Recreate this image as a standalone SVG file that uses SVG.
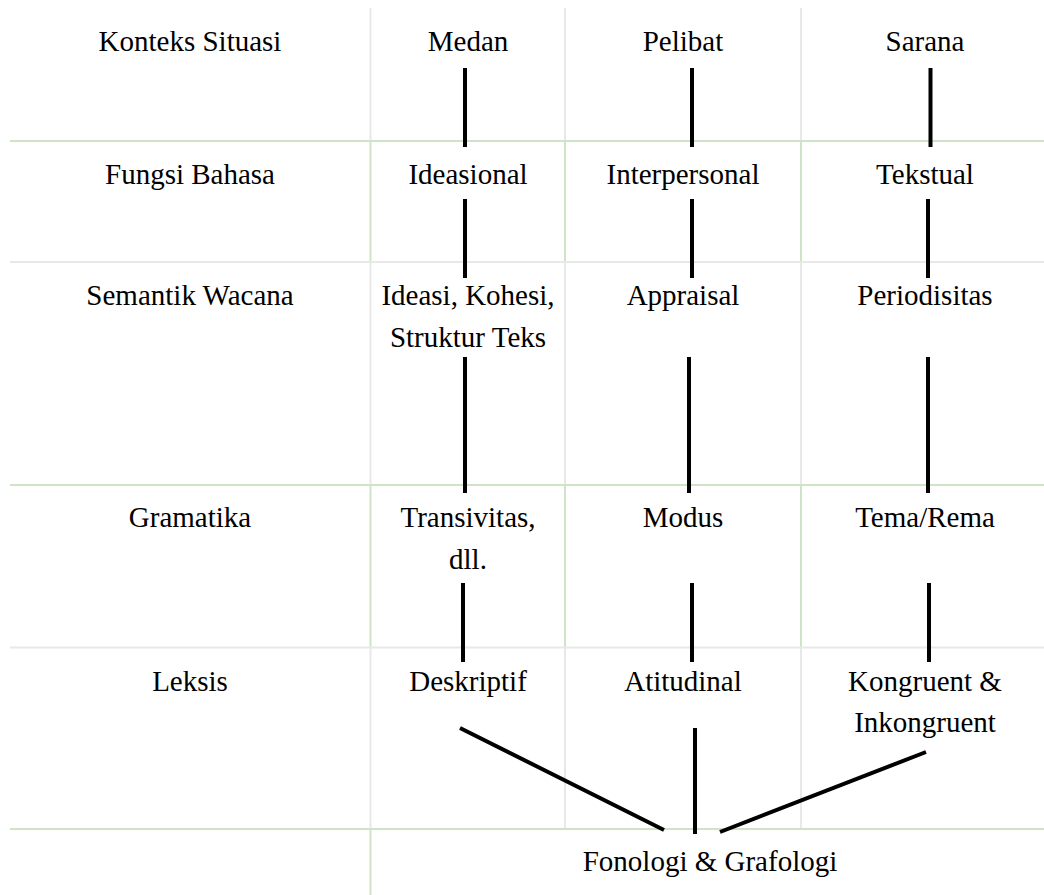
<svg xmlns="http://www.w3.org/2000/svg" width="1044" height="895" viewBox="0 0 1044 895">
<style>
  .g { stroke: #e8e8e8; stroke-width: 2; fill: none; }
  .v { stroke: #cfe3c8; stroke-width: 2; fill: none; }
  .t { font-family: "Liberation Serif", "Times New Roman", serif; font-size: 29px; fill: #000; text-anchor: middle; }
  .c { stroke: #000; stroke-width: 4; fill: none; stroke-linecap: butt; }
</style>
<rect width="1044" height="895" fill="#fff"/>
<g id="grid">
  <!-- vertical segments -->
  <line class="g" x1="370.5" y1="8" x2="370.5" y2="141"/>
  <line class="v" x1="370.5" y1="141" x2="370.5" y2="262"/>
  <line class="g" x1="370.5" y1="262" x2="370.5" y2="485"/>
  <line class="v" x1="370.5" y1="485" x2="370.5" y2="647"/>
  <line class="g" x1="370.5" y1="647" x2="370.5" y2="829"/>
  <line class="v" x1="370.5" y1="829" x2="370.5" y2="895"/>

  <line class="g" x1="565" y1="8" x2="565" y2="141"/>
  <line class="v" x1="565" y1="141" x2="565" y2="262"/>
  <line class="g" x1="565" y1="262" x2="565" y2="485"/>
  <line class="v" x1="565" y1="485" x2="565" y2="647"/>
  <line class="g" x1="565" y1="647" x2="565" y2="829"/>

  <line class="g" x1="801" y1="8" x2="801" y2="141"/>
  <line class="v" x1="801" y1="141" x2="801" y2="262"/>
  <line class="g" x1="801" y1="262" x2="801" y2="485"/>
  <line class="v" x1="801" y1="485" x2="801" y2="647"/>
  <line class="g" x1="801" y1="647" x2="801" y2="829"/>

  <!-- horizontal lines -->
  <line class="v" x1="10" y1="141" x2="1044" y2="141"/>
  <line class="g" x1="10" y1="262" x2="1044" y2="262"/>
  <line class="v" x1="10" y1="485" x2="1044" y2="485"/>
  <line class="g" x1="10" y1="647.5" x2="1044" y2="647.5"/>
  <line class="v" x1="10" y1="829" x2="1044" y2="829"/>
</g>

<g id="row-konteks">
  <text class="t" x="190" y="51">Konteks Situasi</text>
  <g id="medan"><text class="t" x="468" y="51">Medan</text></g>
  <g id="pelibat"><text class="t" x="683" y="51">Pelibat</text></g>
  <g id="sarana"><text class="t" x="925" y="51">Sarana</text></g>
</g>
<g id="row-fungsi">
  <text class="t" x="190" y="184">Fungsi Bahasa</text>
  <g id="ideasional"><text class="t" x="468" y="184">Ideasional</text></g>
  <g id="interpersonal"><text class="t" x="683" y="184">Interpersonal</text></g>
  <g id="tekstual"><text class="t" x="925" y="184">Tekstual</text></g>
</g>
<g id="row-semantik">
  <text class="t" x="190" y="305">Semantik Wacana</text>
  <g id="ideasi"><text class="t" x="468" y="305">Ideasi, Kohesi,</text><text class="t" x="468" y="347">Struktur Teks</text></g>
  <g id="appraisal"><text class="t" x="683" y="305">Appraisal</text></g>
  <g id="periodisitas"><text class="t" x="925" y="305">Periodisitas</text></g>
</g>
<g id="row-gramatika">
  <text class="t" x="190" y="527">Gramatika</text>
  <g id="transivitas"><text class="t" x="468" y="527">Transivitas,</text><text class="t" x="468" y="569">dll.</text></g>
  <g id="modus"><text class="t" x="683" y="527">Modus</text></g>
  <g id="tema"><text class="t" x="925" y="527">Tema/Rema</text></g>
</g>
<g id="row-leksis">
  <text class="t" x="190" y="691">Leksis</text>
  <g id="deskriptif"><text class="t" x="468" y="691">Deskriptif</text></g>
  <g id="atitudinal"><text class="t" x="683" y="691">Atitudinal</text></g>
  <g id="kongruent"><text class="t" x="925" y="691">Kongruent &amp;</text><text class="t" x="925" y="732">Inkongruent</text></g>
</g>
<g id="fonologi">
  <text class="t" x="710" y="871">Fonologi &amp; Grafologi</text>
</g>

<g id="connectors">
  <line class="c" x1="465" y1="68" x2="465" y2="147"/>
  <line class="c" x1="692" y1="68" x2="692" y2="147"/>
  <line class="c" x1="930.5" y1="68" x2="930.5" y2="147"/>

  <line class="c" x1="465" y1="199" x2="465" y2="278"/>
  <line class="c" x1="692" y1="199" x2="692" y2="278"/>
  <line class="c" x1="928" y1="199" x2="928" y2="278"/>

  <line class="c" x1="465" y1="357" x2="465" y2="493"/>
  <line class="c" x1="689" y1="357" x2="689" y2="493"/>
  <line class="c" x1="928" y1="357" x2="928" y2="493"/>

  <line class="c" x1="463" y1="583" x2="463" y2="662"/>
  <line class="c" x1="692" y1="583" x2="692" y2="662"/>
  <line class="c" x1="929" y1="583" x2="929" y2="662"/>

  <line class="c" x1="460" y1="728" x2="664" y2="830"/>
  <line class="c" x1="695" y1="728" x2="695" y2="834"/>
  <line class="c" x1="720" y1="832" x2="926" y2="752"/>
</g>
</svg>
